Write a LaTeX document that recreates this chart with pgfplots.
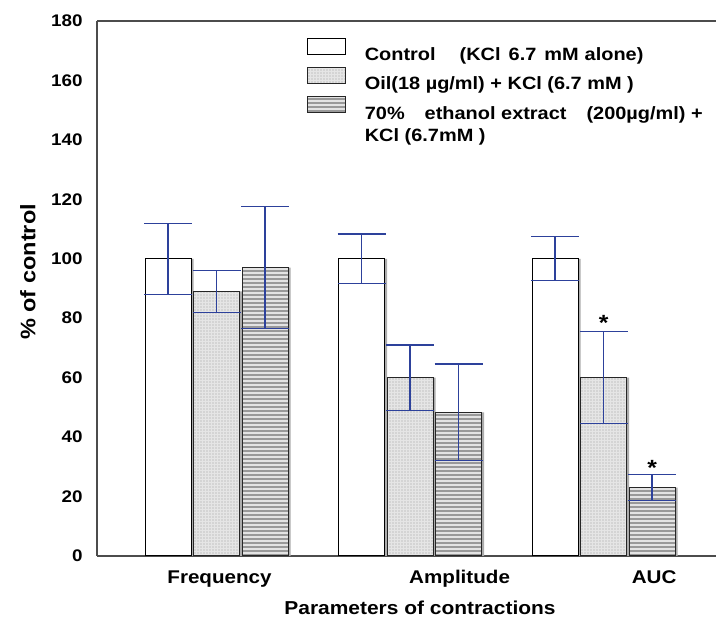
\documentclass[border=0pt]{standalone}
\usepackage{fontspec}
\setmainfont{Liberation Sans}[FakeStretch=1.12]
\usepackage{pgfplots}
\pgfplotsset{compat=1.18}
\usetikzlibrary{patterns.meta}
\definecolor{errblue}{RGB}{45,65,155}
\pgfplotsset{
  mylegend/.style={legend image code/.code={\draw[##1] (0pt,0.5pt) rectangle (19pt,8.5pt);}},
  myerr/.style={error bars/.cd, y dir=both, y explicit,
    error bar style={errblue, line width=0.6pt},
    error mark options={rotate=90, errblue, mark size=12pt, line width=0.6pt}},
}

\begin{document}
\begin{tikzpicture}
\begin{axis}[
  name=ax,
  scale only axis,
  width=309.5pt, height=267.5pt,
  ybar, bar width=23pt,
  xmin=-0.6176, xmax=2.581,
  ymin=0, ymax=180,
  ytick={0,20,...,180},
  xtick={0.0155,1.256,2.261},
  xticklabels={Frequency,Amplitude,AUC},
  major tick length=0pt,
  axis x line=box, axis y line=left,
  axis line style={-, black!70, line width=0.6pt},
  /pgf/number format/assume math mode=true,
  yticklabel style={font=\fontsize{8.4}{10}\selectfont\bfseries, anchor=east, inner sep=0pt, xshift=-7pt},
  xticklabel style={font=\fontsize{9.2}{10}\selectfont\bfseries, anchor=base, inner sep=0pt, yshift=-14pt},
  xlabel={Parameters of contractions},
  ylabel={\% of control},
  xlabel style={font=\fontsize{9.35}{10}\selectfont\bfseries, at={(axis description cs:0.5218,-0.1088)}, anchor=base, inner sep=0pt},
  ylabel style={font=\fontsize{10.5}{11}\selectfont\bfseries, at={(axis description cs:-0.1115,0.531)}, anchor=center, inner sep=0pt},
  legend style={at={(axis description cs:0.339,0.968)}, anchor=north west, draw=none, fill=none,
    font=\fontsize{8.9}{11}\selectfont\bfseries, nodes={inner sep=0pt}, row sep=1.8pt, column sep=9.5pt, inner sep=0pt, outer sep=0pt},
  legend cell align=left,
]

% shadows on the right of the bars
\addplot[forget plot, bar shift=-23.0pt, draw=none, fill=gray!65] table[x=x, y=y] {
x y
0 100
1 100
2 100
};
\addplot[forget plot, bar shift=1.25pt, draw=none, fill=gray!65] table[x=x, y=y] {
x y
0 89
1 60
2 60
};
\addplot[forget plot, bar shift=25.5pt, draw=none, fill=gray!65] table[x=x, y=y] {
x y
0 97
1 48.3
2 23
};

\addplot[bar shift=-24.25pt, draw=black, line width=0.5pt, fill=white, mylegend, myerr]
  table[x=x, y=y, y error=e] {
x y e
0 100 12
1 100 8.3
2 100 7.4
};
\addlegendentry{Control\hspace{12pt}(KCl\hspace{4pt}6.7\hspace{4pt}mM\hspace{3pt}alone)}

\addplot[bar shift=0pt, draw=black!85, line width=0.5pt, fill=gray!20,
  postaction={pattern={Dots[distance=1.5pt, radius=0.35pt]}, pattern color=gray!75},
  mylegend, myerr]
  table[x=x, y=y, y error=e] {
x y e
0 89 7
1 60 11
2 60 15.5
};
\addlegendentry{Oil(18 µg/ml) + KCl (6.7 mM )}

\addplot[bar shift=24.25pt, draw=black!85, line width=0.5pt, fill=gray!22,
  postaction={pattern={Lines[angle=0, distance=2pt, line width=1pt]}, pattern color=gray!80},
  mylegend, myerr]
  table[x=x, y=y, y error=e] {
x y e
0 97 20.5
1 48.3 16.3
2 23 4.4
};
\addlegendentry{\begin{tabular}[t]{@{}l@{}}70\%\hspace{10pt}ethanol extract\hspace{10pt}(200µg/ml) +\\KCl (6.7mM )\end{tabular}}

\addplot[forget plot, bar shift=0pt, draw=none, fill=none, nodes near coords={*},
  every node near coord/.style={font=\fontsize{11}{11}\selectfont\bfseries, anchor=base, inner sep=0pt}]
  coordinates {(2,76.0) (2.2506,27.0)};

\end{axis}
\path (ax.south west) ++(-48.5pt,-31.5pt) rectangle ++(358.5pt,309.5pt);
\end{tikzpicture}
\end{document}
